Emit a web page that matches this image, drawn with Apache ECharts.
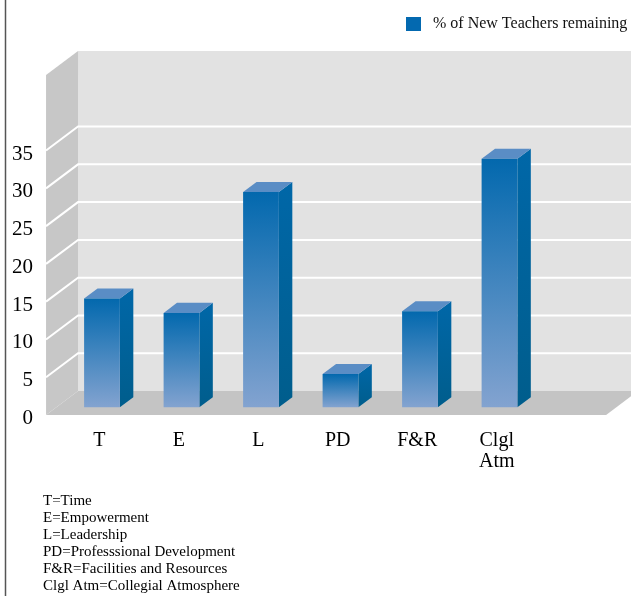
<!DOCTYPE html>
<html>
<head>
<meta charset="utf-8">
<script src="https://cdn.jsdelivr.net/npm/echarts@6/dist/echarts.min.js"></script>
<style>
  html, body { margin: 0; padding: 0; background: #ffffff; }
  #chart { width: 631px; height: 596px; }
</style>
</head>
<body>
<div id="chart"></div>
<script>
// Factors and the share of new teachers remaining for each
const categories = ['T', 'E', 'L', 'PD', 'F&R', 'Clgl\nAtm'];
const abbreviations = ['T', 'E', 'L', 'PD', 'F&R', 'Clgl Atm'];
const categoryNames = ['Time', 'Empowerment', 'Leadership', 'Professsional Development',
  'Facilities and Resources', 'Collegial Atmosphere'];
const remaining = [14.4, 12.5, 28.5, 4.4, 12.7, 32.9];
const yTicks = [0, 5, 10, 15, 20, 25, 30, 35];
const yMax = 45;
const seriesName = '% of New Teachers remaining';

// Oblique projection used for the 3-D look (pixels of depth offset)
const DX = 32, DY = 24;
const BAR_FRONT = 0.32, BAR_BACK = 0.74, BAR_WIDTH = 0.45;
const FONT = '"Liberation Serif", "Times New Roman", serif';

// Back wall, side wall, floor and the gridlines painted on them
function renderRoom(params, api) {
  const band = api.size([1, 0])[0];
  const first = api.coord([0, 0]);
  const last = api.coord([categories.length - 1, 0]);
  const xL = first[0] - band * 0.575;
  const xR = last[0] + band * 1.47;
  const y0 = first[1];
  const yTop = api.coord([0, yMax])[1];
  const children = [
    { type: 'polygon', shape: { points: [[xL + DX, yTop - DY], [xR + DX, yTop - DY], [xR + DX, y0 - DY], [xL + DX, y0 - DY]] },
      style: { fill: '#e2e2e2' } },
    { type: 'polygon', shape: { points: [[xL, yTop], [xL + DX, yTop - DY], [xL + DX, y0 - DY], [xL, y0]] },
      style: { fill: '#c7c7c7' } },
    { type: 'polygon', shape: { points: [[xL, y0], [xR, y0], [xR + DX, y0 - DY], [xL + DX, y0 - DY]] },
      style: { fill: '#c4c4c4' } }
  ];
  yTicks.forEach(function (v) {
    if (v === 0) return;
    const y = api.coord([0, v])[1];
    children.push({
      type: 'polyline',
      shape: { points: [[xL, y], [xL + DX, y - DY], [xR + DX, y - DY]] },
      style: { stroke: '#ffffff', lineWidth: 2, fill: null }
    });
  });
  return { type: 'group', children: children };
}

// One 3-D column: front face, right side face and top face
function renderBar(params, api) {
  const i = api.value(0);
  const v = api.value(1);
  const band = api.size([1, 0])[0];
  const base = api.coord([i, 0]);
  const top = api.coord([i, v]);
  const w = band * BAR_WIDTH;
  const xl = base[0] - w / 2, xr = base[0] + w / 2;
  const y0 = base[1], y1 = top[1];
  const fx = BAR_FRONT * DX, fy = BAR_FRONT * DY;
  const bx = BAR_BACK * DX, by = BAR_BACK * DY;
  return {
    type: 'group',
    children: [
      { type: 'polygon',
        shape: { points: [[xr + fx, y1 - fy], [xr + bx, y1 - by], [xr + bx, y0 - by], [xr + fx, y0 - fy]] },
        style: { fill: new echarts.graphic.LinearGradient(0, 0, 0, 1, [
          { offset: 0, color: '#0067a8' }, { offset: 1, color: '#005d8c' }]) } },
      { type: 'polygon',
        shape: { points: [[xl + fx, y1 - fy], [xr + fx, y1 - fy], [xr + bx, y1 - by], [xl + bx, y1 - by]] },
        style: { fill: '#5a8dc5' } },
      { type: 'rect',
        shape: { x: xl + fx, y: y1 - fy, width: w, height: y0 - y1 },
        style: { fill: new echarts.graphic.LinearGradient(0, 0, 0, 1, [
          { offset: 0, color: '#0368ad' }, { offset: 0.06, color: '#0a6cb0' }, { offset: 1, color: '#83a3d0' }]) } }
    ]
  };
}

const chart = echarts.init(document.getElementById('chart'), null, { renderer: 'canvas' });
chart.setOption({
  animation: false,
  backgroundColor: '#ffffff',
  grid: { left: 52, right: 102, top: 75, bottom: 181 },
  legend: {
    left: 406, top: 16, padding: 0,
    icon: 'rect', itemWidth: 15, itemHeight: 14,
    data: [seriesName],
    textStyle: { fontFamily: FONT, fontSize: 16, color: '#111111', padding: [0, 0, 0, 7] }
  },
  xAxis: {
    type: 'category',
    data: categories,
    axisLine: { show: false },
    axisTick: { show: false },
    splitLine: { show: false },
    axisLabel: { interval: 0, margin: 15, fontFamily: FONT, fontSize: 20, lineHeight: 21,
      color: '#000000', padding: [0, 0, 0, 15] }
  },
  yAxis: {
    type: 'value',
    min: 0, max: yMax, interval: 5,
    axisLine: { show: false },
    axisTick: { show: false },
    splitLine: { show: false },
    axisLabel: {
      margin: 19, color: '#000000',
      formatter: function (v) { return yTicks.indexOf(v) >= 0 ? '{t|' + v + '}' : ''; },
      rich: { t: { fontFamily: FONT, fontSize: 21, color: '#000000', padding: [7, 0, 0, 0] } }
    }
  },
  graphic: [
    { type: 'line', shape: { x1: 5.5, y1: 0, x2: 5.5, y2: 596 }, style: { stroke: '#555555', lineWidth: 1.5 } },
    { type: 'text', left: 43, top: 493,
      style: {
        text: abbreviations.map(function (a, k) { return a + '=' + categoryNames[k]; }).join('\n'),
        font: '15px ' + FONT, lineHeight: 17, fill: '#000000'
      } }
  ],
  series: [
    { type: 'custom', name: 'room', silent: true, clip: false, z: 1,
      renderItem: renderRoom, data: [[0, 0]] },
    { type: 'custom', name: seriesName, clip: false, z: 2,
      itemStyle: { color: '#0369b0' },
      renderItem: renderBar,
      encode: { x: 0, y: 1 },
      data: remaining.map(function (v, k) { return [k, v]; }) }
  ]
});
</script>
</body>
</html>
